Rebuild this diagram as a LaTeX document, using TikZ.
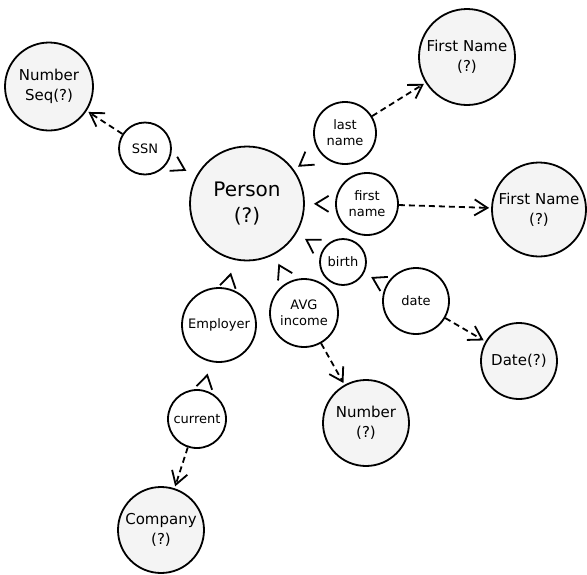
\documentclass[tikz,border=0pt]{standalone}
\usepackage{fontspec}
\setmainfont{DejaVu Sans}
\usetikzlibrary{arrows.meta,decorations.markings}
\definecolor{entfill}{HTML}{F4F4F4}
\begin{document}
\begin{tikzpicture}[x=1pt,y=-1pt,line width=1.8pt,
  entity/.style={circle,draw,fill=entfill,inner sep=0pt,minimum size=#1,
    align=center,font=\fontsize{15}{20}\selectfont},
  bigentity/.style={entity=#1,font=\fontsize{20}{26}\selectfont},
  rel/.style={circle,draw,fill=white,inner sep=0pt,minimum size=#1,
    align=center,font=\fontsize{13}{16}\selectfont},
  chev/.tip={Straight Barb[length=13pt,width=16pt]},
  % solid relation: only the open tip is shown, a little before the target
  tiponly/.style={postaction={decorate},decoration={markings,
    mark=at position -#1 with {\arrow[line width=1.8pt]{chev}}}},
  % dashed link from a relation to its value type
  valuelink/.style={draw,dash pattern=on 6pt off 4pt,-chev,shorten >=2pt}]
\useasboundingbox (0,0) rectangle (587,574);

% entities
\node[bigentity=114pt] (person) at (247,203.5) {Person\\(?)};
\node[entity=88pt] (seq) at (49,86.5) {Number\\Seq(?)};
\node[entity=96pt] (fname1) at (467,57) {First Name\\(?)};
\node[entity=94pt] (fname2) at (539,209.5) {First Name\\(?)};
\node[entity=76pt] (dt) at (519,361) {Date(?)};
\node[entity=86pt] (num) at (366,423) {Number\\(?)};
\node[entity=86pt] (comp) at (161,530) {Company\\(?)};

% relations
\node[rel=52pt] (ssn) at (145,148.5) {SSN};
\node[rel=62pt] (last) at (345,133) {last\\name};
\node[rel=62pt] (first) at (367,204) {first\\name};
\node[rel=46pt] (birth) at (343,262) {birth};
\node[rel=66pt] (date) at (416,301) {date};
\node[rel=68pt] (avg) at (304,313) {AVG\\income};
\node[rel=74pt] (emp) at (219,325) {Employer};
\node[rel=58pt] (cur) at (197,419) {current};

% relations pointing at their owners
\path[tiponly=11pt] (ssn) -- (person);
\path[tiponly=5pt] (last) -- (person);
\path[tiponly=9pt] (first) -- (person);
\path[tiponly=10pt] (birth) -- (person);
\path[tiponly=10pt] (avg) -- (person);
\path[tiponly=13pt] (emp) -- (person);
\path[tiponly=8pt] (date) -- (birth);
\path[tiponly=12pt] (cur) -- (emp);

% relations pointing at their value types
\path[valuelink] (ssn) -- (seq);
\path[valuelink] (last) -- (fname1);
\path[valuelink] (first) -- (fname2);
\path[valuelink] (date) -- (dt);
\path[valuelink] (avg) -- (num);
\path[valuelink] (cur) -- (comp);
\end{tikzpicture}
\end{document}
